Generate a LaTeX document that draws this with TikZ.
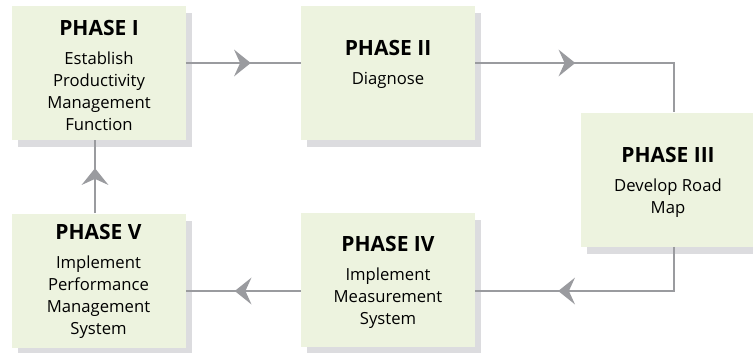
\documentclass[tikz,border=0pt]{standalone}
\usepackage{fontspec}
\setmainfont{Open Sans}
\usetikzlibrary{arrows.meta,decorations.markings,shadows}
\definecolor{boxfill}{HTML}{EDF3DF}
\definecolor{boxshadow}{HTML}{DCDCDF}
\definecolor{linegray}{HTML}{9A9B9F}
\tikzset{
  phase/.style={rectangle, fill=boxfill, minimum width=130.5pt, minimum height=100.5pt, inner sep=0pt,
    general shadow={fill=boxshadow, shadow xshift=4.5pt, shadow yshift=-5.25pt}},
  lbl/.style={align=center, inner sep=0pt, font=\fontsize{12.5}{16.5}\selectfont},
  conn/.style={draw=linegray, line width=1.5pt},
  tipat/.style={postaction={decorate}, decoration={markings, mark=at position #1 with {\arrow[linegray]{Stealth[length=12.5pt,width=20pt,inset=4.5pt]}}}},
}
\newcommand\ttl[1]{{\fontsize{15.75}{18}\selectfont\bfseries #1}}
\begin{document}
\begin{tikzpicture}[x=0.75pt, y=-0.75pt]
\useasboundingbox (0,0) rectangle (753,353);
% boxes
\node[phase] (p1) at (98.5,73) {};
\node[phase] (p2) at (388,73) {};
\node[phase] (p3) at (668,179.5) {};
\node[phase] (p4) at (388,280) {};
\node[phase] (p5) at (98.5,280.5) {};
% labels
\node[lbl] (l1) at (99,75) {\ttl{PHASE I}\\[5.25pt]Establish\\Productivity\\Management\\Function};
\node[lbl] (l2) at (388,64) {\ttl{PHASE II}\\[5.25pt]Diagnose};
\node[lbl] (l3) at (668,182) {\ttl{PHASE III}\\[5.25pt]Develop Road\\Map};
\node[lbl] (l4) at (388,282) {\ttl{PHASE IV}\\[5.25pt]Implement\\Measurement\\System};
\node[lbl] (l5) at (98.5,281.5) {\ttl{PHASE V}\\[5.25pt]Implement\\Performance\\Management\\System};
% helper coordinates
\coordinate (r1) at (0,63);
\coordinate (r2) at (0,291);
\coordinate (c3) at (674,0);
\coordinate (c1) at (95,0);
% connectors
\draw[conn, tipat=48.75pt] (p1.east |- r1) -- (p2.west |- r1);
\draw[conn, tipat=75pt] (p2.east |- r1) -| (c3 |- p3.north);
\draw[conn, tipat=120pt] (c3 |- p3.south) |- (p4.east |- r2);
\draw[conn, tipat=49.5pt] (p4.west |- r2) -- (p5.east |- r2);
\draw[conn, tipat=33.75pt] (c1 |- p5.north) -- (c1 |- p1.south);
\end{tikzpicture}
\end{document}
